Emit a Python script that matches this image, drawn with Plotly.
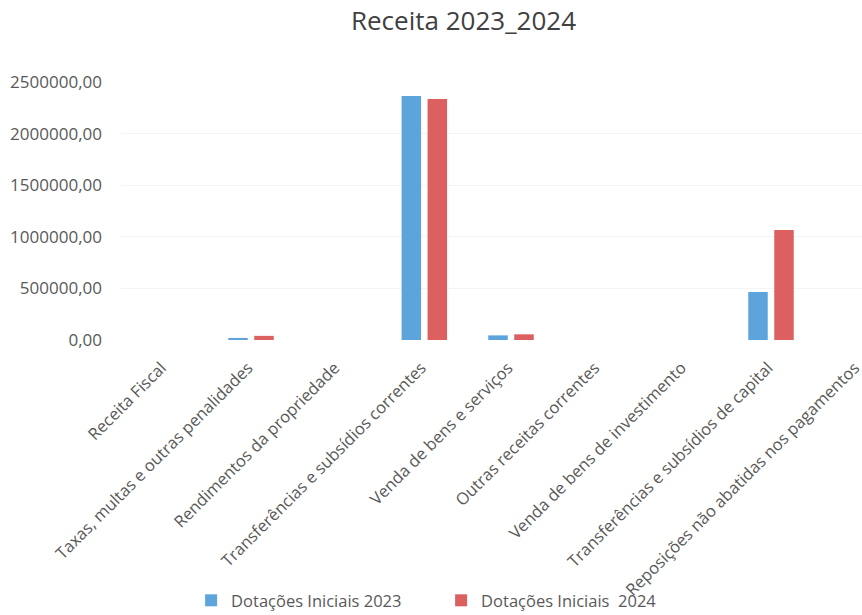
import plotly.graph_objects as go

categories = [
    "Receita Fiscal",
    "Taxas, multas e outras penalidades",
    "Rendimentos da propriedade",
    "Transferências e subsídios correntes",
    "Venda de bens e serviços",
    "Outras receitas correntes",
    "Venda de bens de investimento",
    "Transferências e subsídios de capital",
    "Reposições não abatidas nos pagamentos",
]
dotacoes_2023 = [0, 20000, 0, 2365000, 45000, 0, 0, 465000, 0]
dotacoes_2024 = [0, 40000, 0, 2335000, 55000, 0, 0, 1065000, 0]
series_names = ["Dotações Iniciais 2023", "Dotações Iniciais  2024"]
y_ticks = [0, 500000, 1000000, 1500000, 2000000, 2500000]

font_family = "'Open Sans', sans-serif"
gray = "#595959"

fig = go.Figure()
fig.add_trace(go.Bar(x=categories, y=dotacoes_2023, name=series_names[0],
                     marker=dict(color="#5ea4dc", line=dict(width=0))))
fig.add_trace(go.Bar(x=categories, y=dotacoes_2024, name=series_names[1],
                     marker=dict(color="#dc6060", line=dict(width=0))))

fig.update_layout(
    width=862, height=615,
    margin=dict(l=121, r=0, t=82, b=275, autoexpand=False),
    paper_bgcolor="white", plot_bgcolor="white",
    separators=",.",
    barmode="group", bargap=0.4, bargroupgap=0.25,
    title=dict(text="Receita 2023_2024", xref="container", x=0.5377, xanchor="center",
               yref="container", y=0.966, yanchor="middle",
               font=dict(family=font_family, size=26, color="#404040")),
    font=dict(family=font_family, color=gray, size=16),
    legend=dict(orientation="h", x=0.432, xanchor="center", y=-1.01, yanchor="middle",
                bgcolor="rgba(0,0,0,0)",
                font=dict(size=16.5, color=gray), itemwidth=30, entrywidth=205,
                traceorder="normal"),
    xaxis=dict(tickangle=-45, showgrid=False, showline=False, ticks="",
               range=[-0.5, 8.05], automargin=False,
               ticklabelstandoff=14, ticklabelshift=-3,
               tickfont=dict(size=16.5, color=gray)),
    yaxis=dict(range=[0, 2500000], tickvals=y_ticks, tickformat=".2f",
               showgrid=True, gridcolor="#f4f4f4", zeroline=False, showline=False,
               ticks="", automargin=False, tickfont=dict(size=17, color=gray),
               ticklabelstandoff=18),
)

fig.write_html("out.html", config={"displayModeBar": False},
               post_script="document.body.style.margin='0';")
